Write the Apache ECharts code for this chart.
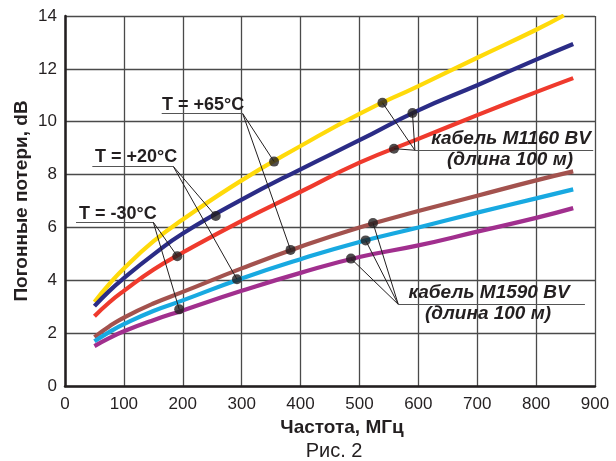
<!DOCTYPE html>
<html><head><meta charset="utf-8">
<script src="https://cdn.jsdelivr.net/npm/echarts@6/dist/echarts.min.js"></script>
<style>html,body{margin:0;padding:0;background:#fff}#c{width:616px;height:461px}</style>
</head><body><div id="c"></div>
<script>
// Frequencies (MHz)
const freq = [50,75,100,150,200,300,400,500,600,700,800,863];
const freqYellow = [50,75,100,150,200,300,400,500,600,700,800,847];
// Cable M1160 BV (100 m)
const m1160_p65 = [3.18,3.85,4.45,5.47,6.30,7.78,9.08,10.3,11.35,12.42,13.48,14.02];
const m1160_p20 = [3.02,3.59,4.08,4.97,5.77,7.05,8.2,9.3,10.43,11.38,12.35,12.94];
const m1160_m30 = [2.64,3.16,3.60,4.40,5.05,6.25,7.35,8.45,9.35,10.25,11.12,11.65];
// Cable M1590 BV (100 m)
const m1590_p65 = [1.85,2.25,2.59,3.12,3.56,4.45,5.27,6.0,6.62,7.2,7.78,8.12];
const m1590_p20 = [1.69,2.04,2.34,2.84,3.24,4.07,4.8,5.45,6.0,6.56,7.1,7.44];
const m1590_m30 = [1.51,1.81,2.07,2.49,2.86,3.6,4.28,4.88,5.32,5.84,6.36,6.73];
// Axis ticks
const xTicks = [0,100,200,300,400,500,600,700,800,900];
const yTicks = [0,2,4,6,8,10,12,14];
// Annotation dots on curves [MHz, dB]
const dots65 = [[355,8.49],[383,5.15]];
const dots20 = [[256,6.43],[292,4.04]];
const dots30 = [[190.7,4.91],[194,2.90]];
const dotsM1160 = [[539,10.72],[590,10.33],[558.6,8.98]];
const dotsM1590 = [[523,6.17],[510.5,5.51],[485.6,4.82]];
// Label anchor points [MHz, dB] and underline starts/ends
const anchor65 = [301.7,10.31], ul65 = 164.2;
const anchor20 = [183.9,8.31], ul20 = 46.4;
const anchor30 = [149.9,6.2], ul30 = 18.7;
const anchorM1160 = [594.2,8.92], ulM1160 = 897;
const anchorM1590 = [565.9,3.09], ulM1590 = 882.9;

const pairs = (xs, ys) => xs.map((x,i)=>[x, ys[i]]);
const curve = (data, color) => ({type:'line', data, smooth:0.5, showSymbol:false, silent:true,
  lineStyle:{color, width:4.2, cap:'butt'}, z:3});

const leaderLines = [];
[[anchor65,dots65],[anchor20,dots20],[anchor30,dots30],[anchorM1160,dotsM1160],[anchorM1590,dotsM1590]]
  .forEach(([a,ds])=>ds.forEach(d=>leaderLines.push({coords:[a,d]})));
const underLines = [
  {coords:[[ul65,anchor65[1]],anchor65]},
  {coords:[[ul20,anchor20[1]],anchor20]},
  {coords:[[ul30,anchor30[1]],anchor30]},
  {coords:[anchorM1160,[ulM1160,anchorM1160[1]]]},
  {coords:[anchorM1590,[ulM1590,anchorM1590[1]]]}
];

const FONT = '"Liberation Sans", Arial, Helvetica, sans-serif';
const chart = echarts.init(document.getElementById('c'), null, {renderer:'canvas'});
const txt = (x,y,text,font,align) => ({type:'text', x, y, z:50,
  style:{text, font, fill:'#231F20', align:align||'left', verticalAlign:'middle', textAlign:align||'left', textVerticalAlign:'middle'}});
const bold18 = 'bold 18px ' + FONT;
const bi = 'italic bold 19px ' + FONT;

chart.setOption({
  animation:false,
  backgroundColor:'#fff',
  grid:{left:65, right:21, top:16, bottom:75, containLabel:false},
  xAxis:{type:'value', min:xTicks[0], max:xTicks[xTicks.length-1], interval:xTicks[1]-xTicks[0],
    name:'Частота, МГц', nameLocation:'middle', nameGap:32, nameMoveOverlap:false,
    nameTextStyle:{fontFamily:FONT, fontWeight:'bold', fontSize:19, color:'#231F20', padding:[0,0,0,24]},
    axisLine:{show:true, onZero:false, lineStyle:{color:'#231F20', width:2.5}},
    axisTick:{show:false},
    axisLabel:{fontFamily:FONT, fontSize:17, color:'#231F20', margin:10},
    splitLine:{show:true, lineStyle:{color:'#4a4a4a', width:1.3}}},
  yAxis:{type:'value', min:yTicks[0], max:yTicks[yTicks.length-1], interval:yTicks[1]-yTicks[0],
    name:'Погонные потери, dB', nameLocation:'middle', nameGap:34, nameRotate:90, nameMoveOverlap:false,
    nameTextStyle:{fontFamily:FONT, fontWeight:'bold', fontSize:19, color:'#231F20'},
    axisLine:{show:true, onZero:false, lineStyle:{color:'#231F20', width:2.5}},
    axisTick:{show:false},
    axisLabel:{fontFamily:FONT, fontSize:17, color:'#231F20', margin:8},
    splitLine:{show:true, lineStyle:{color:'#4a4a4a', width:1.3}}},
  series:[
    curve(pairs(freqYellow, m1160_p65), '#FFDA0A'),
    curve(pairs(freq, m1160_p20), '#2B2C86'),
    curve(pairs(freq, m1160_m30), '#EF3A2D'),
    curve(pairs(freq, m1590_p65), '#A3524E'),
    curve(pairs(freq, m1590_p20), '#18A9E1'),
    curve(pairs(freq, m1590_m30), '#A12F8E'),
    {type:'lines', coordinateSystem:'cartesian2d', data:leaderLines, silent:true, z:5,
      lineStyle:{color:'#231F20', width:1, opacity:1}},
    {type:'lines', coordinateSystem:'cartesian2d', data:underLines, silent:true, z:5,
      lineStyle:{color:'#555', width:1.2, opacity:1}},
    {type:'scatter', data:[].concat(dots65,dots20,dots30,dotsM1160,dotsM1590), symbol:'circle',
      symbolSize:10, itemStyle:{color:'#231F20'}, silent:true, z:10}
  ],
  graphic:[
    txt(162,105,'T = +65°C',bold18),
    txt(95,157,'T = +20°C',bold18),
    txt(79,213.7,'T = -30°C',bold18),
    txt(511,139,'кабель M1160 BV',bi,'center'),
    txt(510,160,'(длина 100 м)',bi,'center'),
    txt(489,293,'кабель M1590 BV',bi,'center'),
    txt(488,313.5,'(длина 100 м)',bi,'center'),
    txt(334,451,'Рис. 2','20px '+FONT,'center')
  ]
});
</script></body></html>
